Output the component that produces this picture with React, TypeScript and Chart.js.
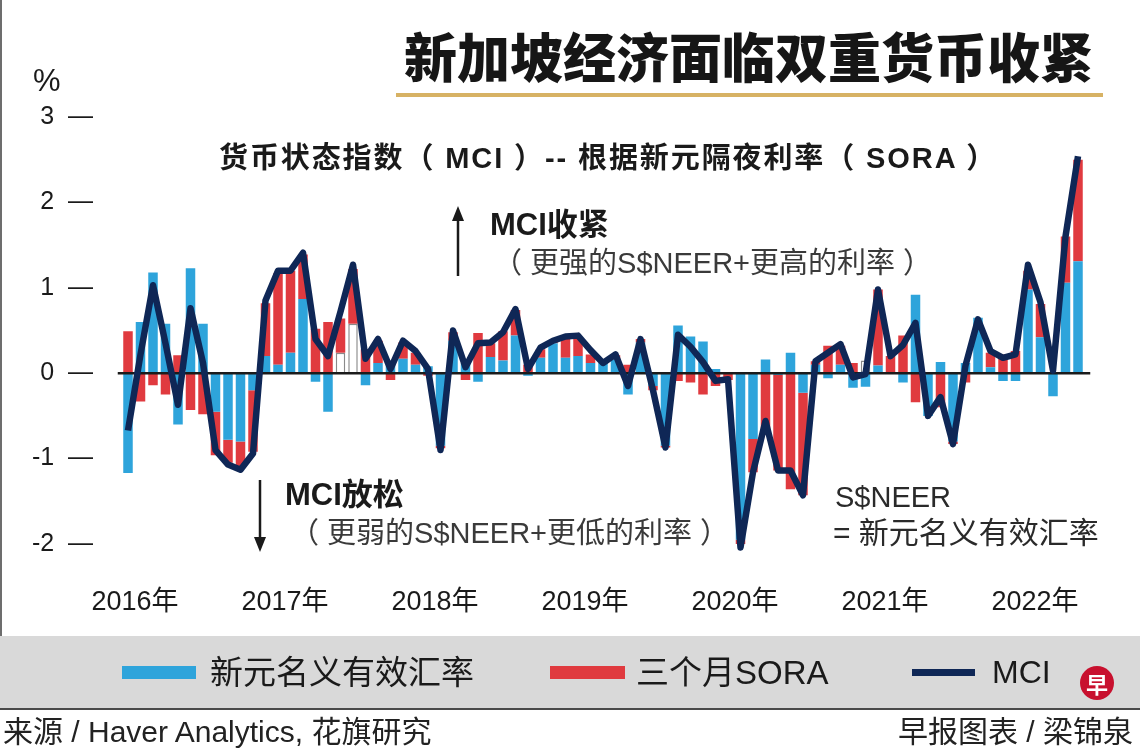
import { useEffect, useRef } from "react";
import type { ReactNode } from "react";
import { Chart, registerables } from "chart.js";
Chart.register(...registerables);

// x axis: monthly, Jan 2016 .. May 2022
const yearLabels = ["2016年", "2017年", "2018年", "2019年", "2020年", "2021年", "2022年"];
const monthNames = ["01", "02", "03", "04", "05", "06", "07", "08", "09", "10", "11", "12"];
const months = yearLabels
  .flatMap((y) => monthNames.map((m) => `${y.slice(0, 4)}-${m}`))
  .slice(0, 77);

// 新元名义有效汇率 (S$NEER) contribution
const sneer = [
  -1.17, 0.6, 1.18, 0.58, -0.6, 1.23, 0.58, -0.45, -0.78, -0.8, -0.2, 0.2,
  0.1, 0.24, 0.87, -0.1, -0.45, 0.24, 0.58, -0.14, 0.12, 0.1, 0.17, 0.1,
  0.08, -0.85, 0.38, 0.12, -0.1, 0.19, 0.15, 0.44, -0.03, 0.18, 0.35, 0.18,
  0.2, 0.12, 0.12, 0.16, -0.25, 0.36, -0.15, -0.85, 0.56, 0.43, 0.37, 0.05,
  -0.01, -1.95, -0.77, 0.16, -0.02, 0.24, -0.23, 0.1, -0.06, 0.1, -0.17, -0.16,
  0.09, 0.0, -0.11, 0.92, -0.5, 0.13, -0.8, 0.12, 0.65, 0.07, -0.09, -0.09,
  0.98, 0.42, -0.27, 1.06, 1.31,
];

// 三个月SORA contribution
const sora = [
  0.49, -0.33, -0.14, -0.25, 0.21, -0.43, -0.48, -0.51, -0.27, -0.3, -0.72, 0.62,
  1.07, 0.96, 0.52, 0.52, 0.6, 0.4, 0.64, 0.28, 0.26, -0.08, 0.19, 0.14,
  -0.03, -0.03, 0.1, -0.08, 0.47, 0.16, 0.34, 0.3, 0.1, 0.1, 0.02, 0.22,
  0.2, 0.1, 0.0, 0.05, 0.1, 0.04, -0.05, -0.02, -0.09, -0.11, -0.25, -0.15,
  -0.07, -0.07, -0.39, -0.72, -1.12, -1.36, -1.2, 0.04, 0.32, 0.22, 0.12, 0.15,
  0.89, 0.2, 0.44, -0.34, 0.0, -0.4, -0.03, -0.11, 0.0, 0.17, 0.22, 0.26,
  0.22, 0.39, 0.0, 0.54, 1.19,
];

// MCI line
const mci = [
  -0.67, 0.22, 1.03, 0.35, -0.37, 0.76, 0.12, -0.9, -1.07, -1.13, -0.94, 0.85,
  1.2, 1.2, 1.41, 0.4, 0.2, 0.72, 1.27, 0.17, 0.4, 0.05, 0.38, 0.26,
  0.05, -0.9, 0.5, 0.07, 0.35, 0.36, 0.48, 0.75, 0.05, 0.3, 0.38, 0.43,
  0.44, 0.27, 0.12, 0.22, -0.15, 0.4, -0.2, -0.87, 0.45, 0.31, 0.13, -0.09,
  -0.07, -2.04, -1.16, -0.56, -1.14, -1.14, -1.43, 0.14, 0.24, 0.34, -0.05, -0.01,
  0.98, 0.2, 0.33, 0.59, -0.5, -0.28, -0.83, 0.09, 0.63, 0.26, 0.18, 0.22,
  1.27, 0.83, 0.03, 1.6, 2.54,
];

// bars printed hollow in the original graphic
const hollowSneer = [17, 18];
const hollowSora = [59];

const BLUE = "#2ea4db";
const RED = "#e03a3f";
const NAVY = "#0f2756";
const SANS = "'Liberation Sans', 'Noto Sans CJK SC', sans-serif";
const CJK = "'Noto Sans CJK SC', 'Liberation Sans', sans-serif";

const zeroLine = {
  id: "zeroLine",
  beforeDatasetDraw(chart: any, args: any) {
    if (args.meta.type !== "line") return;
    const { ctx, chartArea, scales } = chart;
    const y = scales.y.getPixelForValue(0);
    ctx.save();
    ctx.strokeStyle = "#1b1b1b";
    ctx.lineWidth = 2.5;
    ctx.beginPath();
    ctx.moveTo(chartArea.left - 4, y);
    ctx.lineTo(chartArea.right + 6, y);
    ctx.stroke();
    ctx.restore();
  },
};

const McIChart = () => {
  const canvasRef = useRef<HTMLCanvasElement | null>(null);
  useEffect(() => {
    if (!canvasRef.current) return;
    const chart = new Chart(canvasRef.current, {
      type: "bar",
      data: {
        labels: months,
        datasets: [
          {
            type: "line",
            data: mci,
            borderColor: NAVY,
            borderWidth: 6.5,
            borderJoinStyle: "round",
            pointRadius: 0,
            tension: 0,
            stack: "mci",
            order: 0,
            clip: false,
          } as any,
          {
            data: sneer,
            backgroundColor: sneer.map((_, i) => (hollowSneer.includes(i) ? "#ffffff" : BLUE)),
            borderColor: sneer.map((_, i) => (hollowSneer.includes(i) ? "#8a8a8a" : BLUE)),
            borderWidth: sneer.map((_, i) => (hollowSneer.includes(i) ? 1.5 : 0)),
            stack: "bars",
            order: 1,
            barPercentage: 0.76,
            categoryPercentage: 1,
          },
          {
            data: sora,
            backgroundColor: sora.map((_, i) => (hollowSora.includes(i) ? "#ffffff" : RED)),
            borderColor: sora.map((_, i) => (hollowSora.includes(i) ? "#8a8a8a" : RED)),
            borderWidth: sora.map((_, i) => (hollowSora.includes(i) ? 1.5 : 0)),
            stack: "bars",
            order: 2,
            barPercentage: 0.76,
            categoryPercentage: 1,
          },
        ],
      },
      options: {
        animation: false,
        responsive: false,
        maintainAspectRatio: false,
        layout: { padding: { top: 117, right: 55.75, left: 0, bottom: 0 } },
        plugins: {
          legend: { display: false },
          tooltip: { enabled: false },
        },
        scales: {
          x: {
            stacked: true,
            offset: true,
            grid: { display: false, drawTicks: false },
            border: { display: false },
            ticks: {
              autoSkip: false,
              maxRotation: 0,
              padding: 42,
              labelOffset: 7,
              color: "#1a1a1a",
              font: { family: SANS, size: 27 },
              callback: (_v: any, i: number) => (i % 12 === 0 ? yearLabels[i / 12] : ""),
            },
            afterFit: (s: any) => {
              s.height = 92;
            },
          },
          y: {
            stacked: true,
            min: -2,
            max: 3,
            grid: { display: false, drawTicks: false },
            border: { display: false },
            ticks: {
              stepSize: 1,
              padding: 28.75,
              color: "#1a1a1a",
              font: { family: SANS, size: 25 },
              callback: (v: any) => `${v}  —`,
            },
            afterFit: (s: any) => {
              s.width = 121.75;
            },
          },
        },
      },
      plugins: [zeroLine],
    });
    return () => {
      chart.destroy();
    };
  }, []);

  return (
    <canvas
      ref={canvasRef}
      width={1140}
      height={636}
      style={{ position: "absolute", left: 0, top: 0, width: 1140, height: 636 }}
    />
  );
};

const Txt = ({
  x,
  right,
  cy,
  size,
  weight = 400,
  color = "#1a1a1a",
  family = SANS,
  spacing = 0,
  children,
}: {
  x?: number;
  right?: number;
  cy: number;
  size: number;
  weight?: number;
  color?: string;
  family?: string;
  spacing?: number;
  children: ReactNode;
}) => (
  <div
    style={{
      position: "absolute",
      left: x,
      right: right !== undefined ? 1140 - right : undefined,
      top: cy - size / 2,
      height: size,
      lineHeight: `${size}px`,
      fontSize: size,
      fontWeight: weight,
      fontFamily: family,
      letterSpacing: spacing,
      color,
      whiteSpace: "pre",
    }}
  >
    {children}
  </div>
);

const Arrow = ({ x, y1, y2 }: { x: number; y1: number; y2: number }) => {
  const up = y2 < y1;
  const head = up
    ? `${x - 6},${y2 + 15} ${x + 6},${y2 + 15} ${x},${y2}`
    : `${x - 6},${y2 - 15} ${x + 6},${y2 - 15} ${x},${y2}`;
  return (
    <svg style={{ position: "absolute", left: 0, top: 0 }} width={1140} height={752}>
      <line x1={x} y1={y1} x2={x} y2={up ? y2 + 10 : y2 - 10} stroke="#1a1a1a" strokeWidth={2.5} />
      <polygon points={head} fill="#1a1a1a" />
    </svg>
  );
};

export default function App() {
  return (
    <div
      style={{
        position: "absolute",
        left: 0,
        top: 0,
        width: 1140,
        height: 752,
        background: "#ffffff",
        overflow: "hidden",
      }}
    >
      <div style={{ position: "absolute", left: 0, top: 0, width: 2, height: 636, background: "#6d6d6d" }} />
      <McIChart />
      <Arrow x={458} y1={276} y2={206} />
      <Arrow x={260} y1={480} y2={552} />

      <Txt x={404} cy={55} size={53} weight={900} family={CJK} color="#161616">
        新加坡经济面临双重货币收紧
      </Txt>
      <div style={{ position: "absolute", left: 396, top: 93, width: 707, height: 4, background: "#d7b264" }} />
      <Txt x={33} cy={80} size={31}>%</Txt>
      <Txt x={219} cy={158} size={29} weight={700} spacing={1.9}>
        货币状态指数（ MCI ）-- 根据新元隔夜利率（ SORA ）
      </Txt>

      <Txt x={490} cy={224} size={31} weight={700}>MCI收紧</Txt>
      <Txt x={493} cy={263} size={29} color="#3a3a3a">（ 更强的S$NEER+更高的利率 ）</Txt>
      <Txt x={285} cy={494} size={31} weight={700}>MCI放松</Txt>
      <Txt x={290} cy={533} size={29} color="#3a3a3a">（ 更弱的S$NEER+更低的利率 ）</Txt>
      <Txt x={835} cy={497} size={29} color="#2a2a2a">S$NEER</Txt>
      <Txt x={833} cy={533} size={30} color="#2a2a2a">= 新元名义有效汇率</Txt>

      <div
        style={{
          position: "absolute",
          left: 0,
          top: 636,
          width: 1140,
          height: 72,
          background: "#d9d9d9",
          borderBottom: "2px solid #4a4a4a",
        }}
      />
      <div style={{ position: "absolute", left: 122, top: 666, width: 74, height: 13, background: BLUE }} />
      <Txt x={210} cy={672} size={33}>新元名义有效汇率</Txt>
      <div style={{ position: "absolute", left: 550, top: 666, width: 75, height: 13, background: RED }} />
      <Txt x={636} cy={672} size={33}>三个月SORA</Txt>
      <div style={{ position: "absolute", left: 912, top: 669, width: 63, height: 7, background: NAVY }} />
      <Txt x={992} cy={672} size={32}>MCI</Txt>

      <div
        style={{
          position: "absolute",
          left: 1080,
          top: 666,
          width: 34,
          height: 34,
          borderRadius: 17,
          background: "#c8102e",
          color: "#ffffff",
          fontFamily: CJK,
          fontWeight: 700,
          fontSize: 22,
          lineHeight: "34px",
          textAlign: "center",
        }}
      >
        早
      </div>

      <Txt x={3} cy={732} size={30} color="#222222">来源 / Haver Analytics, 花旗研究</Txt>
      <Txt right={1133} cy={732} size={30} color="#222222">早报图表 / 梁锦泉</Txt>
    </div>
  );
}
